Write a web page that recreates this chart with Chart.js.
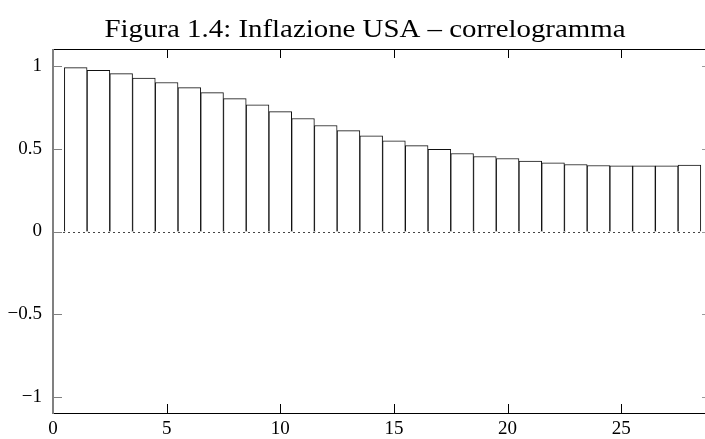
<!DOCTYPE html>
<html><head><meta charset="utf-8">
<script src="https://cdn.jsdelivr.net/npm/chart.js@4.4.0/dist/chart.umd.min.js"></script>
<style>html,body{margin:0;padding:0;background:#fff;}</style>
</head><body>
<canvas id="c" width="705" height="439" style="width:705px;height:439px;display:block"></canvas>
<script>
const TITLE = "Figura 1.4: Inflazione USA – correlogramma";
const lags = [1,2,3,4,5,6,7,8,9,10,11,12,13,14,15,16,17,18,19,20,21,22,23,24,25,26,27,28];
const acf = [0.988,0.972,0.952,0.924,0.898,0.867,0.837,0.801,0.763,0.723,0.681,0.639,0.608,0.577,0.546,0.518,0.496,0.470,0.452,0.440,0.424,0.414,0.404,0.398,0.396,0.396,0.396,0.400];
const xTicks = [0,5,10,15,20,25];
const yTicks = [-1,-0.5,0,0.5,1];
const X_MIN = 0, X_MAX = 28.64, Y_MIN = -1.1, Y_MAX = 1.1;

const fmtY = v => (v < 0 ? '\u2212' : '') + String(Math.abs(v));

const framePlugin = {
  id: 'frame',
  afterDatasetsDraw(chart) {
    const ctx = chart.ctx, a = chart.chartArea;
    const xs = chart.scales.x, ys = chart.scales.y;
    ctx.save();
    // dotted zero line
    const y0 = Math.round(ys.getPixelForValue(0)) + 0.5;
    ctx.setLineDash([2, 3]);
    ctx.strokeStyle = '#444';
    ctx.lineWidth = 1;
    ctx.beginPath(); ctx.moveTo(a.left, y0); ctx.lineTo(a.right, y0); ctx.stroke();
    ctx.setLineDash([]);
    // top & bottom lines
    ctx.strokeStyle = '#000';
    ctx.beginPath();
    ctx.moveTo(a.left, Math.round(a.top) + 0.5); ctx.lineTo(a.right + 1, Math.round(a.top) + 0.5);
    ctx.moveTo(a.left, Math.round(a.bottom) - 0.5); ctx.lineTo(a.right + 1, Math.round(a.bottom) - 0.5);
    ctx.stroke();
    // x ticks (bottom & top, inward)
    ctx.beginPath();
    xTicks.forEach(v => {
      if (v === 0) return;
      const px = Math.round(xs.getPixelForValue(v)) + 0.5;
      ctx.moveTo(px, a.bottom); ctx.lineTo(px, a.bottom - 10);
      ctx.moveTo(px, a.top); ctx.lineTo(px, a.top + 9);
    });
    ctx.stroke();
    // left axis
    ctx.strokeStyle = '#808080';
    ctx.lineWidth = 2;
    ctx.beginPath();
    ctx.moveTo(Math.round(a.left), a.top); ctx.lineTo(Math.round(a.left), a.bottom);
    ctx.stroke();
    ctx.lineWidth = 1;
    ctx.beginPath();
    yTicks.forEach(v => {
      const py = Math.round(ys.getPixelForValue(v)) + 0.5;
      ctx.moveTo(a.left, py); ctx.lineTo(a.left + 9, py);
    });
    ctx.stroke();
    // right small ticks
    ctx.strokeStyle = '#999';
    ctx.beginPath();
    yTicks.forEach(v => {
      const py = Math.round(ys.getPixelForValue(v)) + 0.5;
      ctx.moveTo(a.right - 2, py); ctx.lineTo(a.right + 1, py);
    });
    ctx.stroke();
    ctx.restore();
  },
  afterDraw(chart) {
    const ctx = chart.ctx;
    ctx.save();
    ctx.font = '26px "Liberation Serif", "DejaVu Serif", serif';
    ctx.fillStyle = '#000';
    ctx.textBaseline = 'alphabetic';
    const w = ctx.measureText(TITLE).width;
    const target = 521;
    const sx = target / w;
    ctx.translate(365, 37);
    ctx.scale(sx, 1);
    ctx.textAlign = 'center';
    ctx.fillText(TITLE, 0, 0);
    ctx.restore();
  }
};

new Chart(document.getElementById('c'), {
  type: 'bar',
  data: {
    datasets: [{
      data: lags.map((l, i) => ({x: l, y: acf[i]})),
      backgroundColor: '#fff',
      borderColor: '#111',
      borderWidth: 1,
      borderSkipped: 'start',
      categoryPercentage: 1.0,
      barPercentage: 1.0
    }]
  },
  options: {
    responsive: false,
    animation: false,
    devicePixelRatio: 1,
    layout: { padding: { top: 49, right: 1, left: 0, bottom: 0 } },
    plugins: { legend: { display: false }, title: { display: false }, tooltip: { enabled: false } },
    scales: {
      x: {
        type: 'linear', min: X_MIN, max: X_MAX, offset: false,
        grid: { display: false, drawTicks: false },
        border: { display: false },
        afterFit: s => { s.height = 25; },
        afterBuildTicks: s => { s.ticks = xTicks.map(v => ({value: v})); },
        ticks: { padding: 4, color: '#000', maxRotation: 0, autoSkip: false,
                 font: { family: '"Liberation Serif", serif', size: 19 },
                 callback: v => String(v) }
      },
      y: {
        min: Y_MIN, max: Y_MAX,
        grid: { display: false, drawTicks: false },
        border: { display: false },
        afterFit: s => { s.width = 53; },
        afterBuildTicks: s => { s.ticks = yTicks.map(v => ({value: v})); },
        ticks: { padding: 11, color: '#000',
                 font: { family: '"Liberation Serif", serif', size: 19 },
                 callback: v => fmtY(v) }
      }
    }
  },
  plugins: [framePlugin]
});
</script>
</body></html>
